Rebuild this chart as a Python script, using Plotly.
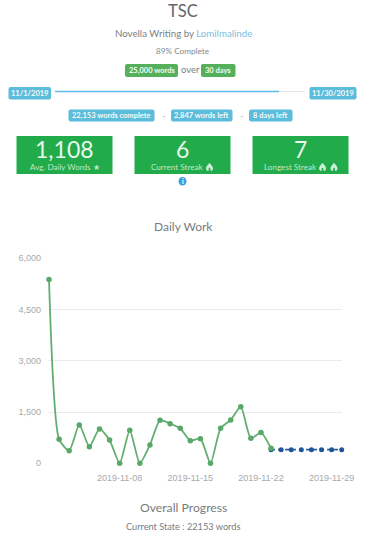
import plotly.graph_objects as go

W, H = 370, 540
dates_done = ["2019-11-%02d" % d for d in range(1, 24)]
words_done = [5376, 702, 370, 1122, 488, 1005, 683, 0, 966, 0, 537, 1258, 1161, 1024,
              663, 722, 0, 1024, 1268, 1658, 732, 898, 439]
dates_plan = ["2019-11-%02d" % d for d in range(23, 31)]
words_plan = [400, 400, 400, 400, 400, 400, 400, 400]
y_ticks = [0, 1500, 3000, 4500, 6000]
y_labels = ["0", "1,500", "3,000", "4,500", "6,000"]
x_ticks = ["2019-11-08", "2019-11-15", "2019-11-22", "2019-11-29"]

SANS = "Lato, 'Open Sans', sans-serif"
CHART = "'Liberation Sans', Arial, sans-serif"
GREEN, BLUE, TILE = "#55b05c", "#5cbcdc", "#22ab4a"

px = lambda x: x / W
py = lambda y: 1 - y / H
shapes, notes = [], []


def text(x, y, s, size, color="#70757a", anchor="center", family=SANS):
    notes.append(dict(x=px(x), y=py(y), xref="paper", yref="paper", text=s, showarrow=False,
                      xanchor=anchor, yanchor="middle",
                      font=dict(family=family, size=size, color=color)))


def rrect(x0, y0, x1, y1, fill, r=2.0):
    X, Y = px, py
    rx, ry = r / W, r / H
    path = (f"M{X(x0)+rx},{Y(y0)} L{X(x1)-rx},{Y(y0)} Q{X(x1)},{Y(y0)} {X(x1)},{Y(y0)-ry} "
            f"L{X(x1)},{Y(y1)+ry} Q{X(x1)},{Y(y1)} {X(x1)-rx},{Y(y1)} L{X(x0)+rx},{Y(y1)} "
            f"Q{X(x0)},{Y(y1)} {X(x0)},{Y(y1)+ry} L{X(x0)},{Y(y0)-ry} Q{X(x0)},{Y(y0)} {X(x0)+rx},{Y(y0)} Z")
    shapes.append(dict(type="path", xref="paper", yref="paper", path=path, fillcolor=fill,
                       line=dict(width=0)))


def badge(x0, y0, x1, y1, s, fill, size=7.5):
    rrect(x0, y0, x1, y1, fill)
    text((x0 + x1) / 2, (y0 + y1) / 2, f"<b>{s}</b>", size, "#f4fbf6")


def hline(x0, x1, y, color, width):
    shapes.append(dict(type="line", xref="paper", yref="paper", x0=px(x0), x1=px(x1),
                       y0=py(y), y1=py(y), line=dict(color=color, width=width)))


def flame(cx, cy, s=3.5, color="#cfeeda"):
    pts = [(0, -1.2), (0.9, -0.1), (1.0, 0.6), (0.7, 1.1), (0.25, 1.1), (0.25, 0.45), (0, 0.15),
           (-0.25, 0.45), (-0.25, 1.1), (-0.7, 1.1), (-1.0, 0.6), (-0.9, -0.1)]
    d = "M" + " L".join(f"{px(cx + a * s)},{py(cy + b * s)}" for a, b in pts) + " Z"
    shapes.append(dict(type="path", xref="paper", yref="paper", path=d, fillcolor=color,
                       line=dict(width=0)))


# header
text(183, 10.5, "TSC", 16.5, "#62676c")
notes.append(dict(x=px(183), y=py(32.5), xref="paper", yref="paper", showarrow=False, yanchor="middle",
                  text="Novella Writing by <span style='color:#7dbde0'>Lomilmalinde</span>",
                  font=dict(family=SANS, size=9.7, color="#7a7f84")))
text(182.5, 50.5, "89% Complete", 8.2, "#85898d")
badge(125, 64, 178, 77, "25,000 words", GREEN)
text(190, 69.5, "over", 9.5, "#7a7f84")
badge(201, 64, 235.5, 77, "30 days", GREEN)

# timeline
hline(55, 279, 91.5, "#5fbde8", 1.5)
hline(279, 305, 91.5, "#e3e6e8", 1)
badge(8.5, 87, 51, 99.5, "11/1/2019", BLUE)
badge(309.5, 87, 356.5, 99.5, "11/30/2019", BLUE)
badge(68.5, 109.5, 154.5, 121.5, "22,153 words complete", BLUE)
text(163, 115, "-", 9, "#b5b9bc")
badge(171, 109.5, 232.5, 121.5, "2,847 words left", BLUE)
text(241, 115, "-", 9, "#b5b9bc")
badge(249, 109.5, 292.5, 121.5, "8 days left", BLUE)

# stat tiles
for x0, val in [(16.5, "1,108"), (134.5, "6"), (252.5, "7")]:
    shapes.append(dict(type="rect", xref="paper", yref="paper", x0=px(x0), x1=px(x0 + 96),
                       y0=py(136), y1=py(174), fillcolor=TILE, line=dict(width=0)))
    text(x0 + 48, 149, val, 23, "#e9f8ee")
text(64.5, 167.5, "Avg. Daily Words ★", 8.1, "#bfe8cc")
text(177, 167.5, "Current Streak", 8.1, "#bfe8cc")
flame(209.5, 167)
text(290, 167.5, "Longest Streak", 8.1, "#bfe8cc")
flame(322.5, 167)
flame(334, 167)

# info icon
shapes.append(dict(type="circle", xref="paper", yref="paper", x0=px(178.5), x1=px(186.5),
                   y0=py(177), y1=py(185.5), fillcolor="#3f9fdc", line=dict(width=0)))
text(182.5, 181.2, "<b>i</b>", 7, "#ffffff")

# chart titles
text(183, 226, "Daily Work", 12, "#777c80")
text(183, 507, "Overall Progress", 12.2, "#777c80")
text(183, 526.5, "Current State : 22153 words", 9.2, "#777c80")

fig = go.Figure()
fig.add_trace(go.Scatter(x=dates_plan, y=words_plan, mode="lines+markers",
                         line=dict(color="#2a62a8", width=1.6, dash="4px,3px"),
                         marker=dict(color="#1f5596", size=5), hoverinfo="skip"))
fig.add_trace(go.Scatter(x=dates_done, y=words_done, mode="lines+markers",
                         line=dict(color="#62ae70", width=1.8, shape="spline", smoothing=0.6),
                         marker=dict(color="#58a968", size=5.5), hoverinfo="skip"))

# axes: 1 day = 10.09 px, first day at x=49, 0 at y=463.3, 6000 at y=258.3
fig.update_layout(
    width=W, height=H, margin=dict(l=0, r=0, t=0, b=0, autoexpand=False), showlegend=False,
    paper_bgcolor="white", plot_bgcolor="white", shapes=shapes, annotations=notes,
    xaxis=dict(domain=[px(48), px(342)], range=["2019-10-31 21:37", "2019-11-30 00:43"],
               automargin=False, ticklabelstandoff=8,
               tickmode="array", tickvals=x_ticks, ticktext=x_ticks, showgrid=False, zeroline=False,
               showline=False, ticks="", tickfont=dict(family=CHART, size=9, color="#a6a9ac")),
    yaxis=dict(domain=[py(463.3), py(258.3)], range=[0, 6000], tickmode="array", tickvals=y_ticks,
               automargin=False, ticklabelstandoff=6,
               ticktext=y_labels, showgrid=True, gridcolor="#e9ebee", gridwidth=1, zeroline=False,
               showline=False, ticks="", tickfont=dict(family=CHART, size=9, color="#a6a9ac")),
)
fig.update_traces(cliponaxis=False)
fig.write_html("out.html", config=dict(displayModeBar=False),
               post_script="document.body.style.margin='0';document.body.style.overflow='hidden';")
